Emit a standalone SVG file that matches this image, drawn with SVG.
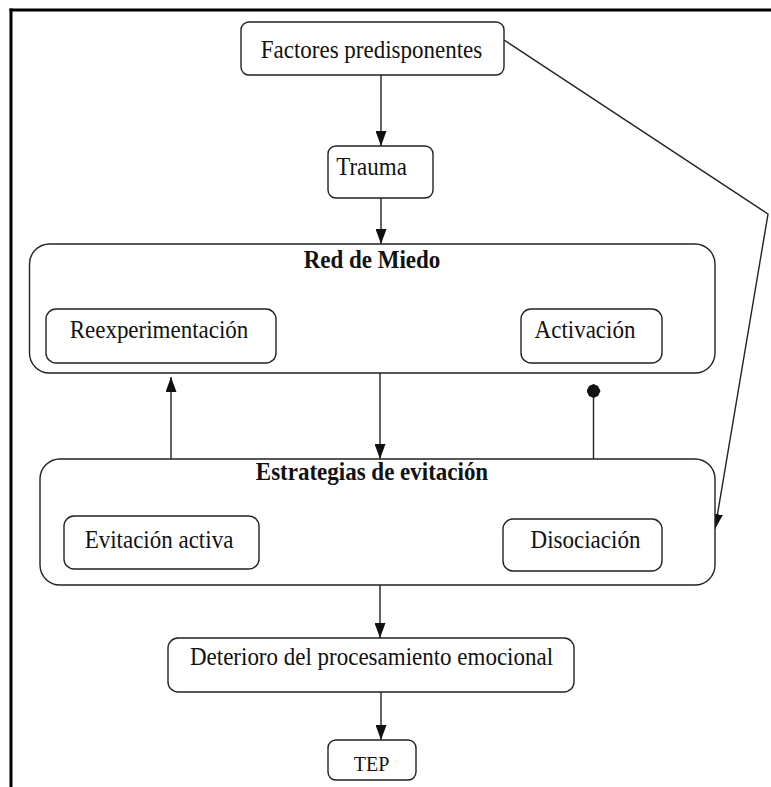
<svg xmlns="http://www.w3.org/2000/svg" width="771" height="787" viewBox="0 0 771 787">
<style>
  .box { fill: #ffffff; stroke: #222222; stroke-width: 1.4; }
  .lbl { font-family: "Liberation Serif", "Times New Roman", serif; font-size: 23px; fill: #111111; text-anchor: middle; }
  .ttl { font-family: "Liberation Serif", "Times New Roman", serif; font-size: 23px; font-weight: bold; fill: #111111; text-anchor: middle; }
  .con { fill: none; stroke: #222222; stroke-width: 1.4; }
  .frame { stroke: #000000; stroke-width: 3; fill: none; }
</style>
<defs>
  <marker id="arrow" viewBox="0 0 15 11" refX="15" refY="5.5" markerWidth="15" markerHeight="11" markerUnits="userSpaceOnUse" orient="auto">
    <path d="M0,0 L15,5.5 L0,11 z" fill="#111111"/>
  </marker>
  <marker id="dot" viewBox="0 0 14 14" refX="7" refY="7" markerWidth="14" markerHeight="14" markerUnits="userSpaceOnUse" orient="auto">
    <path d="M7,0 L12,2.5 L14,7 L12,11.5 L7,14 L2,11.5 L0,7 L2,2.5 z" fill="#111111"/>
  </marker>
</defs>
<rect x="0" y="0" width="771" height="787" fill="#ffffff"/>
<g id="frame">
  <line class="frame" x1="9.5" y1="10" x2="771" y2="10"/>
  <line class="frame" x1="11" y1="8.5" x2="11" y2="787"/>
</g>
<g id="connectors">
  <line class="con" x1="381" y1="75" x2="381" y2="146" marker-end="url(#arrow)"/>
  <line class="con" x1="381" y1="198" x2="381" y2="244" marker-end="url(#arrow)"/>
  <line class="con" x1="380" y1="373" x2="380" y2="459" marker-end="url(#arrow)"/>
  <line class="con" x1="171" y1="516" x2="171" y2="377" marker-end="url(#arrow)"/>
  <line class="con" x1="593.5" y1="519" x2="593.5" y2="391" marker-end="url(#dot)"/>
  <polyline class="con" points="504,40 768,214 715,529" marker-end="url(#arrow)"/>
  <line class="con" x1="380" y1="585" x2="380" y2="638" marker-end="url(#arrow)"/>
  <line class="con" x1="381" y1="692" x2="381" y2="740" marker-end="url(#arrow)"/>
</g>
<g id="factores">
  <rect class="box" x="241" y="22" width="263" height="53" rx="8"/>
  <text class="lbl" transform="translate(371.5,58) scale(1,1.1)">Factores predisponentes</text>
</g>
<g id="trauma">
  <rect class="box" x="328" y="146" width="105" height="52" rx="8"/>
  <text class="lbl" transform="translate(371.5,175) scale(1,1.1)">Trauma</text>
</g>
<g id="red-de-miedo">
  <rect class="box" x="29.5" y="244" width="685.5" height="129" rx="20"/>
  <text class="ttl" transform="translate(372,268) scale(1,1.1)">Red de Miedo</text>
</g>
<g id="reexperimentacion">
  <rect class="box" x="46" y="309" width="230" height="54" rx="10"/>
  <text class="lbl" transform="translate(159,338) scale(1,1.1)">Reexperimentación</text>
</g>
<g id="activacion">
  <rect class="box" x="521" y="309" width="141" height="54" rx="10"/>
  <text class="lbl" transform="translate(585,338) scale(1,1.1)">Activación</text>
</g>
<g id="estrategias">
  <rect class="box" x="40" y="459" width="675" height="126" rx="20"/>
  <text class="ttl" transform="translate(372,480) scale(1,1.1)">Estrategias de evitación</text>
</g>
<g id="evitacion-activa">
  <rect class="box" x="64" y="516" width="195" height="53" rx="10"/>
  <text class="lbl" transform="translate(159,548) scale(1,1.1)">Evitación activa</text>
</g>
<g id="disociacion">
  <rect class="box" x="503" y="519" width="159" height="52" rx="10"/>
  <text class="lbl" transform="translate(585.5,548) scale(1,1.1)">Disociación</text>
</g>
<g id="deterioro">
  <rect class="box" x="168" y="638" width="406" height="54" rx="10"/>
  <text class="lbl" transform="translate(371.5,665) scale(1,1.1)">Deterioro del procesamiento emocional</text>
</g>
<g id="tep">
  <rect class="box" x="328" y="740" width="88" height="40" rx="8"/>
  <text class="lbl" transform="translate(371.5,771) scale(1,1.1)" style="font-size:20px">TEP</text>
</g>
</svg>
